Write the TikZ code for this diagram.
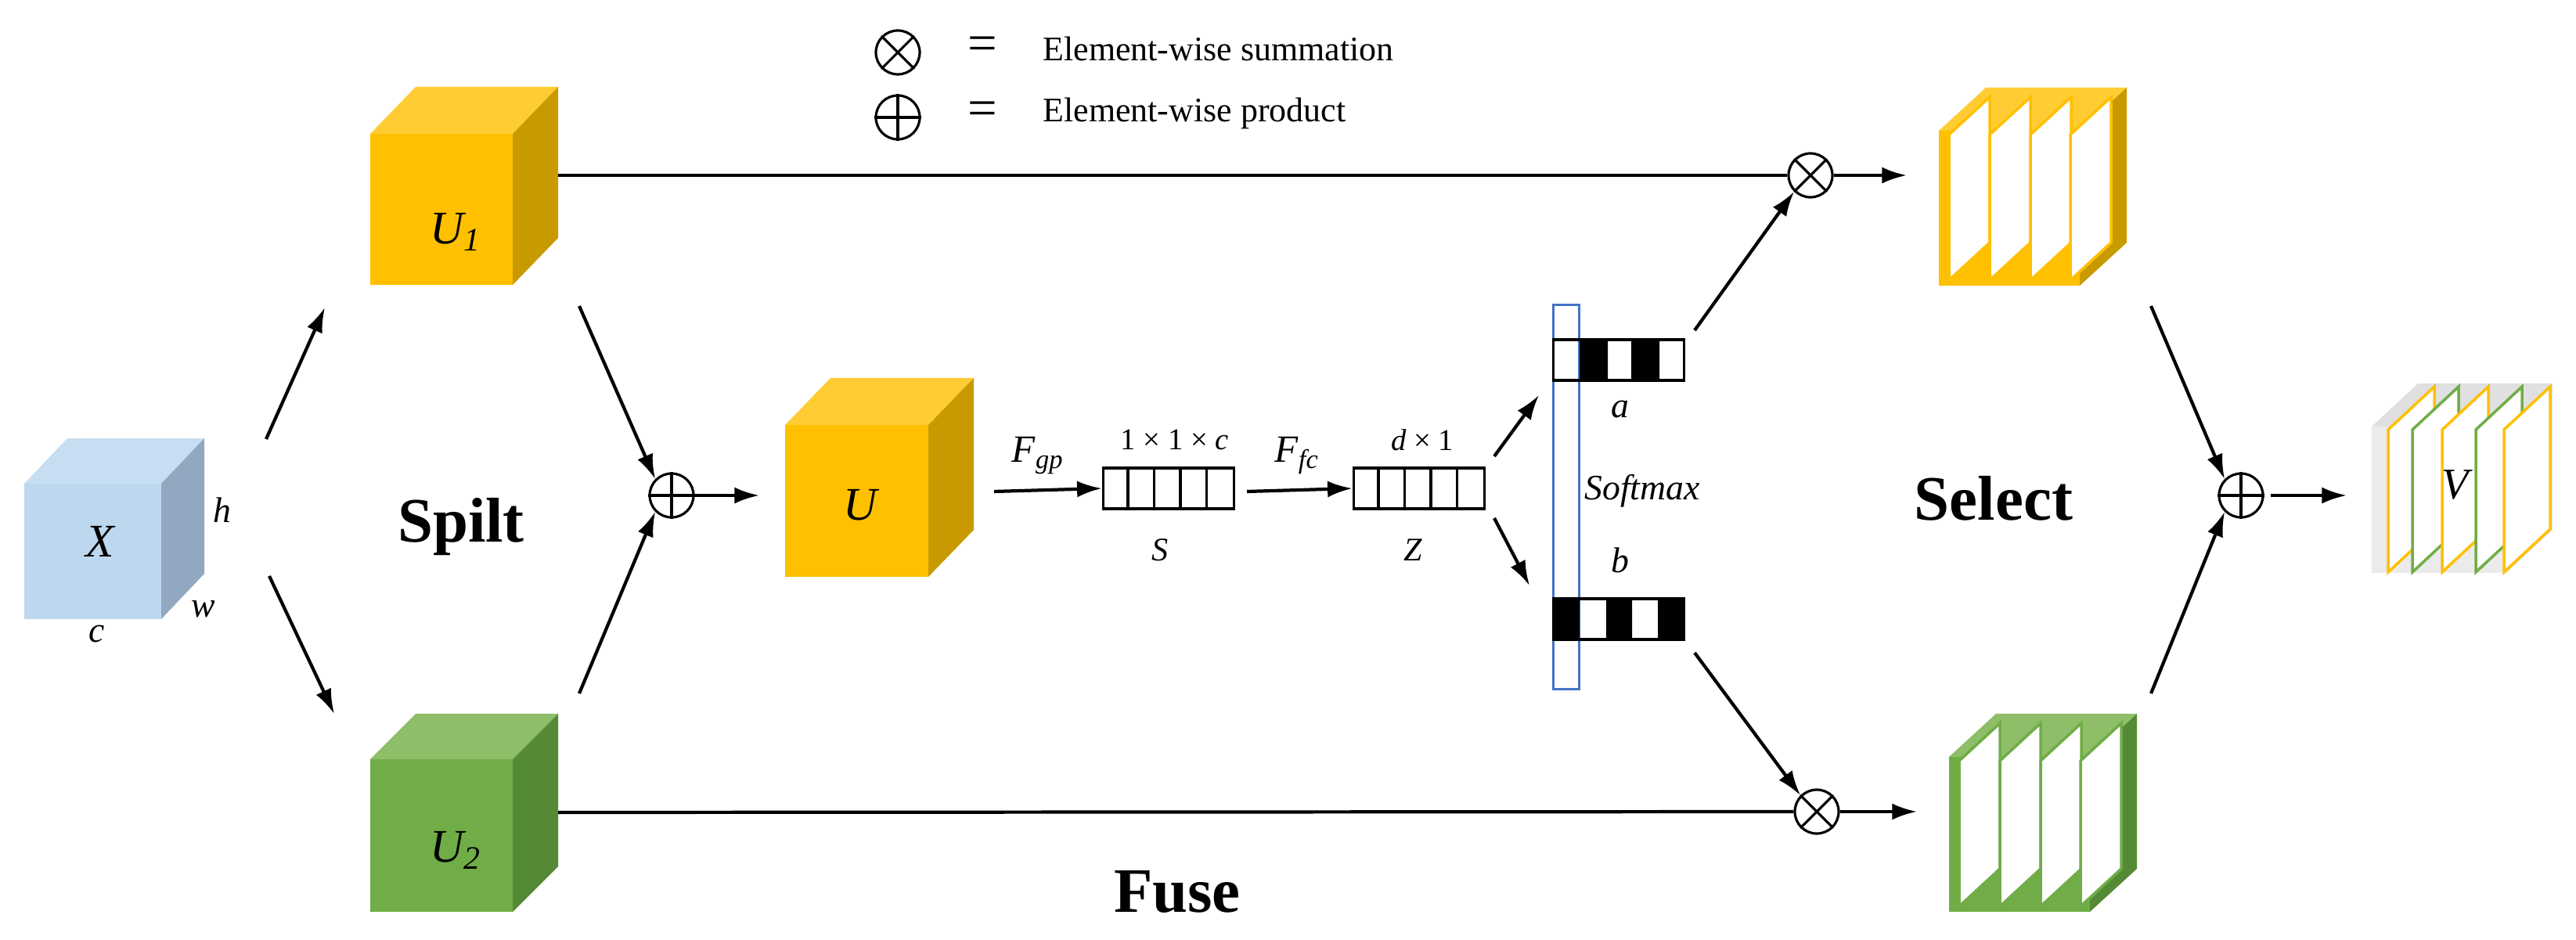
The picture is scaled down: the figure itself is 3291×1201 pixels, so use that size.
\documentclass[tikz,border=0pt]{standalone}
\usepackage{fontspec}
\setmainfont{Liberation Serif}
\usetikzlibrary{arrows.meta,calc}
\definecolor{yF}{HTML}{FFC000}\definecolor{yT}{HTML}{FFCC33}\definecolor{yS}{HTML}{C99A00}
\definecolor{gF}{HTML}{70AD47}\definecolor{gT}{HTML}{8EBE68}\definecolor{gS}{HTML}{548A35}
\definecolor{bF}{HTML}{BDD7EE}\definecolor{bT}{HTML}{C7DDF1}\definecolor{bS}{HTML}{91A8C0}
\definecolor{vbar}{HTML}{4472C4}
\newcommand{\mycube}[9]{% x1 y1 x2 y2 dx dy front top side
 \fill[#7] (#1,#2) rectangle (#3,#4);
 \fill[#8] (#1,#2) -- ++(#5,-#6) -- ($(#3,#2)+(#5,-#6)$) -- (#3,#2) -- cycle;
 \fill[#9] (#3,#2) -- ++(#5,-#6) -- ($(#3,#4)+(#5,-#6)$) -- (#3,#4) -- cycle;}
\tikzset{
 arr/.style={line width=1.2pt,-{Latex[length=9pt,width=6pt]}},
 ln/.style={line width=1.2pt},
 op/.style={circle,draw,line width=0.9pt,minimum size=0.56cm,inner sep=0pt},
 mlab/.style={font=\fontsize{17}{17}\selectfont\itshape},
 slab/.style={font=\fontsize{13}{13}\selectfont\itshape},
 big/.style={font=\fontsize{23}{23}\selectfont\bfseries},
 leg/.style={font=\fontsize{12.5}{13}\selectfont,anchor=west},
 vec/.style={draw,line width=1pt,minimum width=1.67cm,minimum height=0.52cm,inner sep=0pt},
 sheet/.style={fill=white,line width=1pt}
}
\newcommand{\plusin}[1]{\draw[line width=0.9pt] (#1.north)--(#1.south) (#1.west)--(#1.east);}
\newcommand{\timesin}[1]{\draw[line width=0.9pt] (#1.north west)--(#1.south east) (#1.north east)--(#1.south west);}
\begin{document}
\begin{tikzpicture}[x=0.01cm,y=-0.01cm]
\useasboundingbox (0,0) rectangle (3291,1201);
% legend
\node[op] (lx) at (1147,67) {};\timesin{lx}
\node[op] (lp) at (1147,150) {};\plusin{lp}
\node[font=\fontsize{19}{19}\selectfont] (le1) at (1255,62) {=};
\node[font=\fontsize{19}{19}\selectfont] (le2) at (1255,145) {=};
\node[leg] (lt1) at (1320,62) {Element-wise summation};
\node[leg] (lt2) at (1320,145) {Element-wise product};
% cubes
\mycube{31}{618}{206}{791}{55}{58}{bF}{bT}{bS}
\node[mlab] (Xl) at (128,692) {X};
\node[slab] (hl) at (284,652) {h};
\node[slab] (wl) at (260,778) {w};
\node[slab] (cl) at (124,810) {c};
\mycube{473}{171}{655}{364}{58}{60}{yF}{yT}{yS}
\node[mlab] (U1l) at (582,296) {U\textsubscript{\itshape 1}};
\mycube{473}{970}{655}{1165}{58}{58}{gF}{gT}{gS}
\node[mlab] (U2l) at (582,1086) {U\textsubscript{\itshape 2}};
\mycube{1003}{543}{1186}{737}{58}{60}{yF}{yT}{yS}
\node[mlab] (Ul) at (1099,645) {U};
\node[big] (spilt) at (589,673) {Spilt};
\node[big] (fuse) at (1504,1140) {Fuse};
\node[big] (select) at (2547,637) {Select};
% split arrows
\coordinate (xa1) at (340,561); \coordinate (xa2) at (415,393);
\coordinate (xb1) at (344,736); \coordinate (xb2) at (427,912);
\draw[arr] (xa1) -- (xa2); \draw[arr] (xb1) -- (xb2);
\node[op] (p1) at (858,633) {};\plusin{p1}
\coordinate (u1a) at (740,391); \coordinate (u2a) at (740,886);
\draw[arr] (u1a) -- (p1.north west); \draw[arr] (u2a) -- (p1.south west);
\coordinate (Uin) at (970,633);
\draw[arr] (p1.east) -- (Uin);
% S and Z
\node[vec] (S) at (1493,624) {};
\foreach \i in {1,2,3,4} \draw[line width=1pt] ($(S.south west)+(\i*33.4,0)$) -- ($(S.north west)+(\i*33.4,0)$);
\node[vec] (Z) at (1813,624) {};
\foreach \i in {1,2,3,4} \draw[line width=1pt] ($(Z.south west)+(\i*33.4,0)$) -- ($(Z.north west)+(\i*33.4,0)$);
\coordinate (fg0) at (1270,628);
\draw[arr] (fg0) -- (S.west);
\coordinate (ff0) at (1593,628);
\draw[arr] (ff0) -- (Z.west);
\node[font=\fontsize{14}{14}\selectfont] (fgp) at (1326,582) {\textit{F}\textsubscript{\itshape gp}};
\node[font=\fontsize{14}{14}\selectfont] (ffc) at (1657,582) {\textit{F}\textsubscript{\itshape fc}};
\node[font=\fontsize{11}{11}\selectfont] (sdim) at (1501,562) {1 × 1 × \textit{c}};
\node[font=\fontsize{11}{11}\selectfont] (zdim) at (1817,562) {\textit{d} × 1};
\node[font=\fontsize{12}{12}\selectfont\itshape] (Sl) at (1482,703) {S};
\node[font=\fontsize{12}{12}\selectfont\itshape] (Zl) at (1805,703) {Z};
% softmax
\node[draw=vbar,line width=1pt,minimum width=0.33cm,minimum height=4.91cm,inner sep=0pt] (bar) at (2001,635) {};
\node[slab] (soft) at (2098,627) {Softmax};
\fill (2018,434) rectangle (2054,486) (2084,434) rectangle (2120,486);
\node[vec] (a) at (2068,460) {};
\fill (1985,765) rectangle (2018,817) (2052,765) rectangle (2085,817) (2118,765) rectangle (2152,817);
\node[vec] (b) at (2068,791) {};
\node[slab] (al) at (2070,523) {a};
\node[slab] (bl) at (2070,716) {b};
\coordinate (za) at (1909,583); \coordinate (zat) at (1966,505);
\coordinate (zb) at (1909,662); \coordinate (zbt) at (1954,748);
\draw[arr] (za) -- (zat); \draw[arr] (zb) -- (zbt);
% multiply nodes
\node[op] (m1) at (2313,224) {};\timesin{m1}
\node[op] (m2) at (2321,1037) {};\timesin{m2}
\coordinate (U1r) at (713,224); \coordinate (U2r) at (713,1038);
\draw[ln] (U1r) -- (m1.west); \draw[ln] (U2r) -- (m2.west);
\coordinate (aa) at (2165,422); \coordinate (bb) at (2165,834);
\draw[arr] (aa) -- (m1.south west); \draw[arr] (bb) -- (m2.north west);
\coordinate (ys) at (2436,224); \coordinate (gs) at (2449,1037);
\draw[arr] (m1.east) -- (ys); \draw[arr] (m2.east) -- (gs);
% yellow stack
\mycube{2477}{167}{2657}{365}{60}{55}{yF}{yT}{yS}
\foreach \x in {2490,2542,2594,2645} \draw[sheet,draw=yF] (\x,358) -- (\x,172) -- (\x+52,124) -- (\x+52,310) -- cycle;
% green stack
\mycube{2490}{967}{2670}{1165}{60}{55}{gF}{gT}{gS}
\foreach \x in {2503,2555,2607,2658} \draw[sheet,draw=gF] (\x,1158) -- (\x,972) -- (\x+52,924) -- (\x+52,1110) -- cycle;
% select
\node[op] (p2) at (2863,633) {};\plusin{p2}
\coordinate (ya) at (2748,391); \coordinate (ga) at (2748,886);
\draw[arr] (ya) -- (p2.north west); \draw[arr] (ga) -- (p2.south west);
\coordinate (vin) at (2998,633);
\draw[arr] (p2.east) ++(8,0) -- (vin);
% V
\mycube{3030}{545}{3202}{732}{59}{55}{black!8}{black!12}{black!10}
\foreach \x/\c in {3051/yF,3082/gF,3120/yF,3163/gF,3199/yF} \draw[sheet,draw=\c] (\x,731) -- (\x,549) -- (\x+59,494) -- (\x+59,676) -- cycle;
\node[font=\fontsize{16}{16}\selectfont\itshape] (Vl) at (3137,620) {V};
\end{tikzpicture}
\end{document}
